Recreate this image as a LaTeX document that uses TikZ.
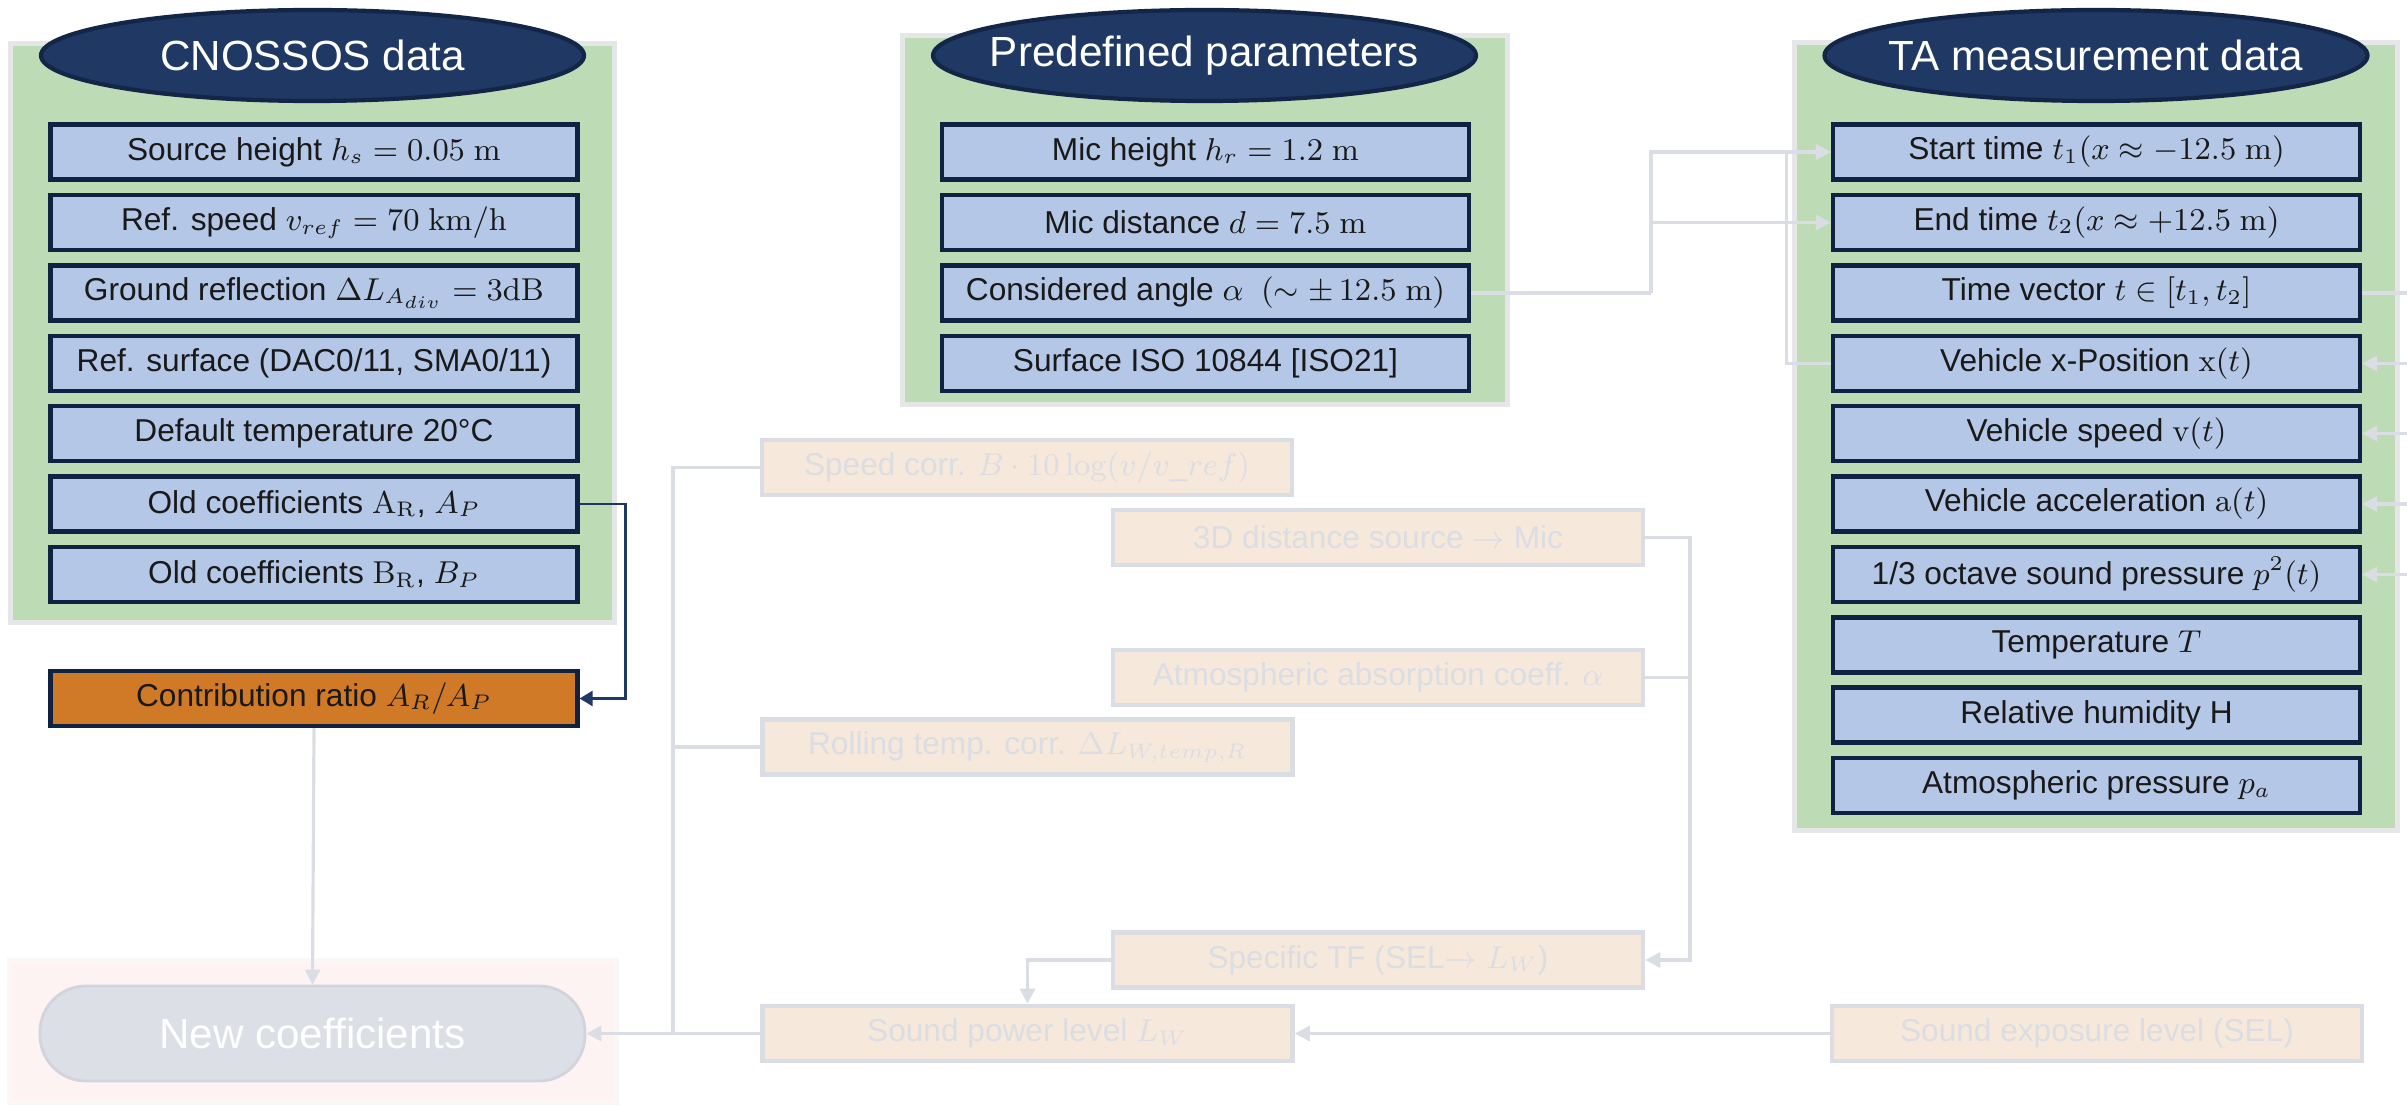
\documentclass[tikz,border=0pt]{standalone}
\usepackage[no-math]{fontspec}
\setmainfont{Liberation Sans}
\usetikzlibrary{arrows.meta,shapes.geometric}

\definecolor{navy}{RGB}{31,56,100}
\definecolor{navyline}{RGB}{20,38,72}
\definecolor{boxline}{RGB}{16,34,66}
\definecolor{boxblue}{RGB}{180,199,231}
\definecolor{panelgreen}{RGB}{189,220,181}
\definecolor{panelgray}{RGB}{229,230,232}
\definecolor{ratioorange}{RGB}{208,122,40}
\definecolor{fadefill}{RGB}{246,233,220}
\definecolor{fadeline}{RGB}{218,221,227}
\definecolor{fadetext}{RGB}{219,221,227}
\definecolor{outpink}{RGB}{253,243,243}
\definecolor{outpinkline}{RGB}{252,247,247}
\definecolor{outgray}{RGB}{220,223,230}

\tikzset{
  panel/.style={draw=panelgray, line width=1.4pt, fill=panelgreen},
  title/.style={ellipse, draw=navyline, line width=1.2pt, fill=navy, text=white,
    minimum width=5.43cm, minimum height=0.91cm, inner xsep=-1cm, inner ysep=0pt,
    font=\fontsize{12}{14}\selectfont},
  databox/.style={rectangle, draw=boxline, line width=1.2pt, fill=boxblue, text=black!90,
    minimum width=5.27cm, minimum height=0.55cm, inner sep=0pt,
    font=\fontsize{9}{11}\selectfont},
  fadebox/.style={databox, draw=fadeline, line width=1.3pt, fill=fadefill, text=fadetext,
    minimum width=5.30cm},
  outnode/.style={rectangle, rounded corners=0.46cm, draw=outgray!95!black, line width=0.8pt,
    fill=outgray, text=white, minimum width=5.45cm, minimum height=0.95cm,
    font=\fontsize{12}{14}\selectfont},
  link/.style={draw=fadeline, line width=0.9pt},
  linkarrow/.style={link, -{Triangle[length=1.5mm,width=1.5mm]}},
  navyarrow/.style={draw=navy, line width=0.7pt, -{Triangle[length=1.3mm,width=1.5mm]}},
}

\begin{document}
\begin{tikzpicture}[y=-1cm]
  \useasboundingbox (0,0) rectangle (24.07,11.06);
  \draw[panel] (0.105,0.435) rectangle (6.145,6.225);
  \draw[panel] (9.025,0.355) rectangle (15.075,4.045);
  \draw[panel] (17.945,0.425) rectangle (23.975,8.305);
  \draw[fill=outpink,draw=outpinkline,line width=1.4pt] (0.095,9.605) rectangle (6.165,11.025);

  \node[title] (cnossos) at (3.125,0.555) {CNOSSOS data};
  \node[title] (predef) at (12.045,0.555) {Predefined parameters};
  \node[title] (tadata) at (20.96,0.555) {TA measurement data};

  \node[databox] (srcheight) at (3.14,1.52) {Source height $h_s = 0.05\ \mathrm{m}$};
  \node[databox] (refspeed) at (3.14,2.225) {Ref. speed $v_{ref} = 70\ \mathrm{km/h}$};
  \node[databox] (groundrefl) at (3.14,2.93) {Ground reflection $\Delta L_{A_{div}} = 3\mathrm{dB}$};
  \node[databox] (refsurf) at (3.14,3.635) {Ref. surface (DAC0/11, SMA0/11)};
  \node[databox] (deftemp) at (3.14,4.335) {Default temperature 20°C};
  \node[databox] (oldA) at (3.14,5.04) {Old coefficients $\mathrm{A}_\mathrm{R}$, $A_P$};
  \node[databox] (oldB) at (3.14,5.745) {Old coefficients $\mathrm{B}_\mathrm{R}$, $B_P$};
  \node[databox,fill=ratioorange] (ratio) at (3.14,6.985) {Contribution ratio $A_R/A_P$};
  \node[outnode] (newcoef) at (3.125,10.335) {New coefficients};

  \node[databox] (micheight) at (12.055,1.52) {Mic height $h_r = 1.2\ \mathrm{m}$};
  \node[databox] (micdist) at (12.055,2.225) {Mic distance $d = 7.5\ \mathrm{m}$};
  \node[databox] (angle) at (12.055,2.93) {Considered angle $\alpha\ \ (\sim\pm\,12.5\ \mathrm{m})$};
  \node[databox] (isosurf) at (12.055,3.635) {Surface ISO 10844 [ISO21]};

  \node[databox] (tstart) at (20.965,1.52) {Start time $t_1(x \approx -12.5\ \mathrm{m})$};
  \node[databox] (tend) at (20.965,2.225) {End time $t_2(x \approx +12.5\ \mathrm{m})$};
  \node[databox] (tvec) at (20.965,2.93) {Time vector $t \in [t_1, t_2]$};
  \node[databox] (xpos) at (20.965,3.635) {Vehicle x-Position $\mathrm{x}(t)$};
  \node[databox] (vspeed) at (20.965,4.335) {Vehicle speed $\mathrm{v}(t)$};
  \node[databox] (vacc) at (20.965,5.04) {Vehicle acceleration $\mathrm{a}(t)$};
  \node[databox] (octave) at (20.965,5.745) {1/3 octave sound pressure $p^2(t)$};
  \node[databox] (temp) at (20.965,6.45) {Temperature $T$};
  \node[databox] (humid) at (20.965,7.15) {Relative humidity H};
  \node[databox] (atmpress) at (20.965,7.855) {Atmospheric pressure $p_a$};

  \node[fadebox] (speedcorr) at (10.27,4.675) {Speed corr. $B\cdot 10\log(v/v\_ref)$};
  \node[fadebox] (dist3d) at (13.78,5.375) {3D distance source $\rightarrow$ Mic};
  \node[fadebox] (atmabs) at (13.78,6.775) {Atmospheric absorption coeff. $\alpha$};
  \node[fadebox] (rolling) at (10.275,7.47) {Rolling temp. corr. $\Delta L_{W,temp,R}$};
  \node[fadebox] (spectf) at (13.78,9.60) {Specific TF (SEL$\rightarrow L_W$)};
  \node[fadebox] (swl) at (10.275,10.335) {Sound power level $L_W$};
  \node[fadebox] (sel) at (20.97,10.335) {Sound exposure level (SEL)};

  \draw[navyarrow] (oldA.east) -- ++(0.46,0) |- (ratio.east);
  \draw[linkarrow] (ratio.south) -- (newcoef.north);

  \coordinate (anglebus) at (16.51,2.93);
  \draw[link] (angle.east) -- (anglebus);
  \draw[linkarrow] (anglebus) |- (tstart.west);
  \draw[linkarrow] (anglebus) |- (tend.west);
  \draw[linkarrow] (xpos.west) -- ++(-0.44,0) |- (tstart.west);
  \coordinate (tvbus) at (24.11,2.93);
  \draw[link] (tvec.east) -- (tvbus);
  \foreach \n in {xpos,vspeed,vacc,octave} {\draw[linkarrow] (tvbus) |- (\n.east);}

  \coordinate (corrbus) at (6.73,10.335);
  \draw[link] (speedcorr.west) -| (corrbus);
  \draw[link] (rolling.west) -- (rolling.west -| corrbus);
  \draw[linkarrow] (swl.west) -- (newcoef.east);
  \coordinate (tfbus) at (16.90,6.775);
  \draw[link] (dist3d.east) -| (tfbus);
  \draw[linkarrow] (atmabs.east) -- (tfbus) |- (spectf.east);
  \draw[linkarrow] (spectf.west) -| (swl.north);
  \draw[linkarrow] (sel.west) -- (swl.east);
\end{tikzpicture}
\end{document}
